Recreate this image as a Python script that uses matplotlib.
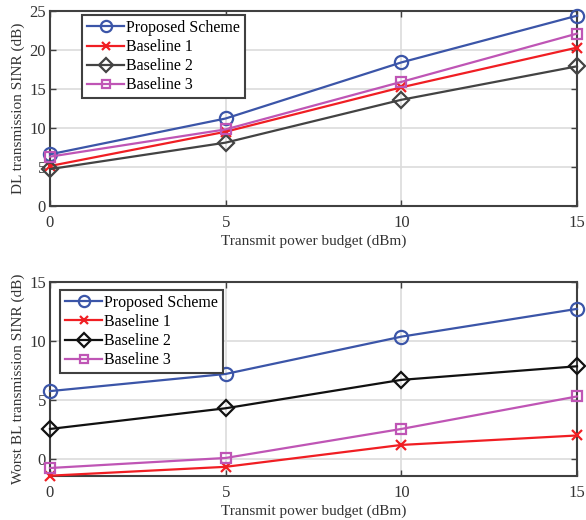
import matplotlib
matplotlib.use("Agg")
import matplotlib.pyplot as plt

plt.rcParams['font.family'] = ['Liberation Serif', 'DejaVu Serif']
plt.rcParams['mathtext.fontset'] = 'stix'

power_dbm = [0, 5, 10, 15]
series_names = ["Proposed Scheme", "Baseline 1", "Baseline 2", "Baseline 3"]

# Downlink SINR (dB)
dl_proposed = [6.6, 11.2, 18.4, 24.4]
dl_base1 = [5.1, 9.5, 15.2, 20.3]
dl_base2 = [4.7, 8.1, 13.6, 17.9]
dl_base3 = [6.3, 9.8, 15.9, 22.1]

# Worst backscatter-link SINR (dB)
bl_proposed = [5.75, 7.2, 10.35, 12.7]
bl_base1 = [-1.4, -0.65, 1.2, 2.0]
bl_base2 = [2.55, 4.3, 6.7, 7.85]
bl_base3 = [-0.75, 0.1, 2.55, 5.3]

x_ticks = [0, 5, 10, 15]

styles_top = [
    dict(color='#3b55a8', marker='o', mfc='none'),
    dict(color='#f01e23', marker='x', mfc='none'),
    dict(color='#434343', marker='D', mfc='none'),
    dict(color='#bf55b5', marker='s', mfc='none'),
]
styles_bot = [
    dict(color='#3b55a8', marker='o', mfc='none'),
    dict(color='#f01e23', marker='x', mfc='none'),
    dict(color='#111111', marker='D', mfc='none'),
    dict(color='#bf55b5', marker='s', mfc='none'),
]
msizes = {'o': 9.5, 'x': 7, 'D': 8, 's': 7}

fig = plt.figure(figsize=(5.86, 5.2), dpi=100)
ax1 = fig.add_axes([0.0853, 0.6044, 0.8993, 0.3744])
ax2 = fig.add_axes([0.0853, 0.0852, 0.8993, 0.3731])

frame_col = '#404040'
text_col = '#333333'


def style_axes(ax):
    ax.grid(True, color='#dcdcdc', linewidth=1.2)
    ax.set_axisbelow(True)
    for sp in ax.spines.values():
        sp.set_color(frame_col)
        sp.set_linewidth(1.5)
    ax.tick_params(axis='both', direction='in', top=True, right=True, length=4,
                   width=1.0, color=frame_col, labelsize=12,
                   labelcolor=text_col)
    ax.tick_params(axis='x', pad=7)
    ax.tick_params(axis='y', pad=3)
    ax.set_xlim(0, 15)
    ax.set_xticks(x_ticks)


def draw(ax, data, styles):
    for name, y, st in zip(series_names, data, styles):
        ax.plot(power_dbm, y, label=name, linewidth=1.6,
                markersize=msizes[st['marker']], markeredgewidth=1.6,
                clip_on=False, zorder=3, **st)


def add_legend(ax, anchor):
    leg = ax.legend(loc='upper left', bbox_to_anchor=anchor, fontsize=11.5,
                    frameon=True, fancybox=False, handlelength=2.35,
                    handletextpad=0.1, borderpad=0.3, labelspacing=0.2,
                    borderaxespad=0.0, markerscale=0.85)
    leg.get_frame().set_edgecolor(frame_col)
    leg.get_frame().set_linewidth(1.5)
    leg.get_frame().set_alpha(1)
    return leg


draw(ax1, [dl_proposed, dl_base1, dl_base2, dl_base3], styles_top)
style_axes(ax1)
ax1.set_ylim(0, 25)
ax1.set_yticks([0, 5, 10, 15, 20, 25])
ax1.set_xlabel('Transmit power budget (dBm)', fontsize=11, color=text_col, labelpad=2)
ax1.set_ylabel('DL transmission SINR (dB)', fontsize=11, color=text_col, labelpad=3)
add_legend(ax1, (0.061, 0.979))

draw(ax2, [bl_proposed, bl_base1, bl_base2, bl_base3], styles_bot)
style_axes(ax2)
ax2.set_ylim(-1.4, 15)
ax2.set_yticks([0, 5, 10, 15])
ax2.set_xlabel('Transmit power budget (dBm)', fontsize=11, color=text_col, labelpad=2)
ax2.set_ylabel('Worst BL transmission SINR (dB)', fontsize=11, color=text_col, labelpad=3)
add_legend(ax2, (0.019, 0.957))

fig.savefig('out.png', dpi=100)
